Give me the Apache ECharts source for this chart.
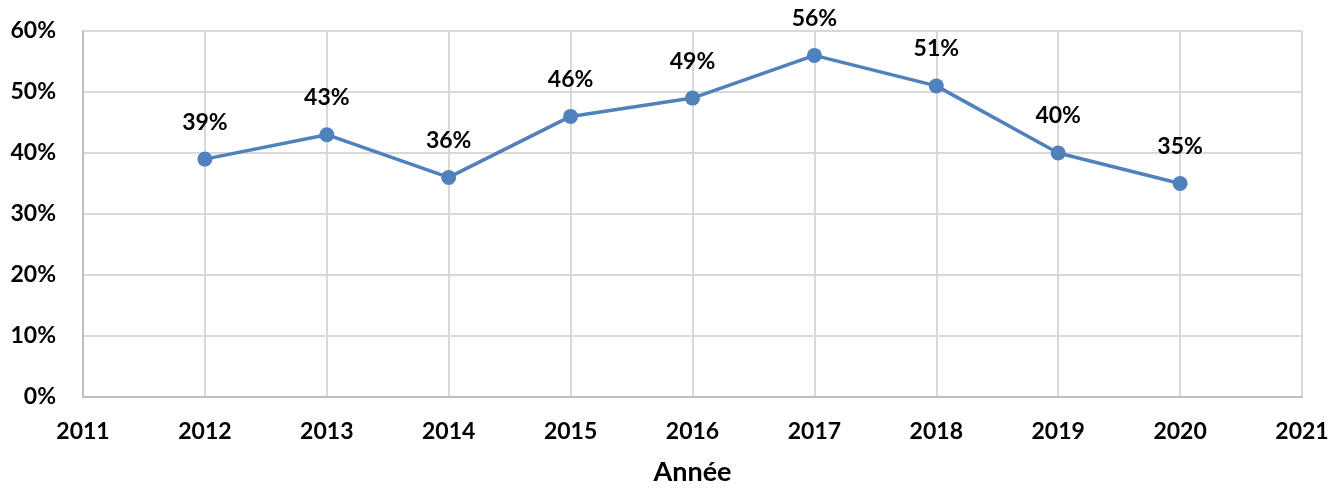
<!DOCTYPE html>
<html>
<head>
<meta charset="utf-8">
<script src="https://cdn.jsdelivr.net/npm/echarts@6/dist/echarts.min.js"></script>
<style>
  html, body { margin: 0; padding: 0; background: #fff; }
  #chart { width: 1339px; height: 491px; }
</style>
</head>
<body>
<div id="chart"></div>
<script>
const years = [2012, 2013, 2014, 2015, 2016, 2017, 2018, 2019, 2020];
const shares = [39, 43, 36, 46, 49, 56, 51, 40, 35];

const font = 'Lato, Carlito, Calibri, sans-serif';
const blue = '#4f81bd';

const chart = echarts.init(document.getElementById('chart'));
chart.setOption({
  animation: false,
  grid: { left: 83, right: 37, top: 31, bottom: 94 },
  xAxis: {
    type: 'value',
    min: 2011,
    max: 2021,
    interval: 1,
    name: 'Année',
    nameLocation: 'middle',
    nameGap: 62,
    nameTextStyle: { fontFamily: font, fontWeight: 'bold', fontSize: 27, color: '#000' },
    axisLine: { lineStyle: { color: '#bfbfbf', width: 2 } },
    axisTick: { show: false },
    axisLabel: { margin: 23, fontFamily: font, fontWeight: 'bold', fontSize: 23, color: '#000', formatter: v => String(v) },
    splitLine: { show: true, lineStyle: { color: '#d9d9d9', width: 2 } }
  },
  yAxis: {
    type: 'value',
    min: 0,
    max: 60,
    interval: 10,
    axisLine: { show: true, lineStyle: { color: '#bfbfbf', width: 2 } },
    axisTick: { show: false },
    axisLabel: { margin: 27, fontFamily: font, fontWeight: 'bold', fontSize: 23, color: '#000', formatter: '{value}%' },
    splitLine: { lineStyle: { color: '#d9d9d9', width: 2 } }
  },
  series: [{
    type: 'line',
    data: years.map((y, i) => [y, shares[i]]),
    symbol: 'circle',
    symbolSize: 15,
    lineStyle: { color: blue, width: 3.5 },
    itemStyle: { color: blue },
    label: {
      show: true,
      position: 'top',
      distance: 18,
      fontFamily: font,
      fontWeight: 'bold',
      fontSize: 23,
      color: '#000',
      formatter: p => p.value[1] + '%'
    }
  }]
});
</script>
</body>
</html>
